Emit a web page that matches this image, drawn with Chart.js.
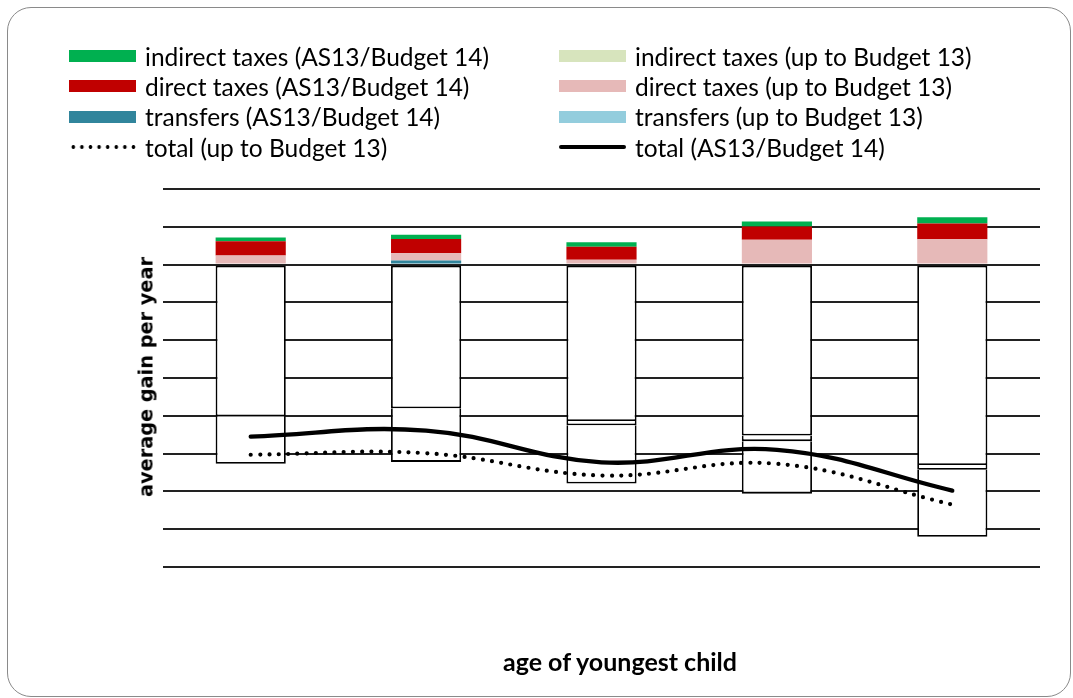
<!doctype html>
<html lang="en">
  <head>
    <meta charset="UTF-8" />
    <title>Average gain per year</title>
    <script src="https://cdn.jsdelivr.net/npm/chart.js"></script>
    <style>
      body {
        margin: 0;
        background: #fff;
        font-family: Lato, 'Open Sans', sans-serif;
        color: #000;
      }
      .page {
        position: relative;
        width: 1073px;
        height: 698px;
        overflow: hidden;
      }
      .frame {
        position: absolute;
        left: 7px;
        top: 7px;
        width: 1064px;
        height: 690px;
        box-sizing: border-box;
        border: 1.5px solid #8a8a8a;
        border-radius: 24px;
      }
      .chart-box {
        position: absolute;
        left: 0;
        top: 0;
        width: 1073px;
        height: 698px;
      }
      .legend {
        position: absolute;
        left: 69px;
        top: 41px;
        display: grid;
        grid-template-columns: 490px 480px;
      }
      .legend-item {
        display: flex;
        align-items: center;
        height: 30.3px;
        font-size: 24.5px;
        white-space: nowrap;
      }
      .swatch {
        flex: none;
        width: 67px;
        height: 12px;
        margin-right: 9px;
      }
      .axis-title {
        position: absolute;
        font-weight: bold;
        white-space: nowrap;
      }
      #yTitle {
        left: 146px;
        top: 377px;
        font-family: 'DejaVu Sans', sans-serif;
        font-size: 19.3px;
        transform: translate(-50%, -50%) rotate(-90deg);
      }
      #xTitle {
        left: 620px;
        top: 661px;
        font-size: 25px;
        transform: translate(-50%, -50%);
      }
    </style>
  </head>
  <body>
    <div class="page">
      <div class="frame"></div>
      <div class="chart-box">
        <canvas id="gainChart"></canvas>
      </div>
      <div id="legend" class="legend"></div>
      <div id="yTitle" class="axis-title">average gain per year</div>
      <div id="xTitle" class="axis-title">age of youngest child</div>
    </div>

    <script>
      const ageGroups = ['group 1', 'group 2', 'group 3', 'group 4', 'group 5'];

      // components of the gain, stacked in this order
      const transfersOld = [-4.01, -3.8, -4.14, -4.52, -5.3];
      const transfersNew = [0, 0.11, -0.11, -0.15, -0.13];
      const directOld = [0.24, 0.19, 0.13, 0.66, 0.67];
      const directNew = [0.38, 0.38, 0.34, 0.35, 0.42];
      const indirectOld = [-1.26, -1.42, -1.54, -1.39, -1.77];
      const indirectNew = [0.1, 0.11, 0.12, 0.13, 0.16];

      // totals
      const totalOld = [-5.03, -4.99, -5.58, -5.27, -6.35];
      const totalNew = [-4.55, -4.39, -5.23, -4.9, -5.98];

      // negative pieces are drawn as white boxes with a black outline
      function fillFor(colour) {
        return (ctx) => (ctx.raw < 0 ? '#ffffff' : colour);
      }
      function outlineFor(ctx) {
        return ctx.raw < 0 ? 1.8 : 0;
      }

      function barSet(label, data, colour, skipped) {
        return {
          type: 'bar',
          label: label,
          data: data,
          order: 2,
          swatch: colour,
          backgroundColor: fillFor(colour),
          borderColor: '#000',
          borderWidth: outlineFor,
          borderSkipped: skipped === undefined ? 'start' : skipped,
          categoryPercentage: 0.8,
          barPercentage: 0.5,
        };
      }

      const datasets = [
        barSet('transfers (up to Budget 13)', transfersOld, '#93CDDD', false),
        barSet('transfers (AS13/Budget 14)', transfersNew, '#31859C'),
        barSet('direct taxes (up to Budget 13)', directOld, '#E6B9B8'),
        barSet('direct taxes (AS13/Budget 14)', directNew, '#C00000'),
        barSet('indirect taxes (up to Budget 13)', indirectOld, '#D7E4BD'),
        barSet('indirect taxes (AS13/Budget 14)', indirectNew, '#00B050'),
        {
          type: 'line',
          label: 'total (up to Budget 13)',
          data: totalOld,
          stack: 'oldTotal',
          order: 0,
          borderColor: '#000',
          borderWidth: 4.2,
          borderDash: [0, 9.3],
          borderCapStyle: 'round',
          tension: 0.4,
          pointRadius: 0,
          fill: false,
          dotted: true,
        },
        {
          type: 'line',
          label: 'total (AS13/Budget 14)',
          data: totalNew,
          stack: 'newTotal',
          order: 1,
          borderColor: '#000',
          borderWidth: 4.3,
          borderCapStyle: 'round',
          tension: 0.4,
          pointRadius: 0,
          fill: false,
        },
      ];

      const ctx = document.getElementById('gainChart').getContext('2d');
      const chart = new Chart(ctx, {
        data: { labels: ageGroups, datasets: datasets },
        options: {
          responsive: true,
          maintainAspectRatio: false,
          animation: false,
          layout: { padding: { left: 163, right: 33, top: 189, bottom: 123 } },
          plugins: {
            legend: { display: false },
            tooltip: { enabled: false },
          },
          scales: {
            x: {
              stacked: true,
              grid: { display: false },
              ticks: { display: false },
              border: { display: false },
            },
            y: {
              stacked: true,
              min: -8,
              max: 2,
              ticks: { display: false, stepSize: 1 },
              grid: { color: '#222', lineWidth: 2, drawTicks: false },
              border: { display: false },
            },
          },
        },
      });

      // legend: two columns, rows paired old/new
      const legendOrder = [5, 4, 3, 2, 1, 0, 6, 7];
      const legendDiv = document.getElementById('legend');
      legendOrder.forEach((i) => {
        const ds = chart.data.datasets[i];
        const item = document.createElement('div');
        item.className = 'legend-item';
        const sw = document.createElement('span');
        sw.className = 'swatch';
        if (ds.type === 'bar') {
          sw.style.background = ds.swatch;
        } else if (ds.dotted) {
          sw.style.height = '4px';
          sw.style.background =
            'radial-gradient(circle, #000 1.6px, transparent 2.1px) 0 0 / 8.6px 4px repeat-x';
        } else {
          sw.style.height = '4px';
          sw.style.borderRadius = '2px';
          sw.style.background = '#000';
        }
        item.appendChild(sw);
        item.appendChild(document.createTextNode(ds.label));
        legendDiv.appendChild(item);
      });
    </script>
  </body>
</html>
